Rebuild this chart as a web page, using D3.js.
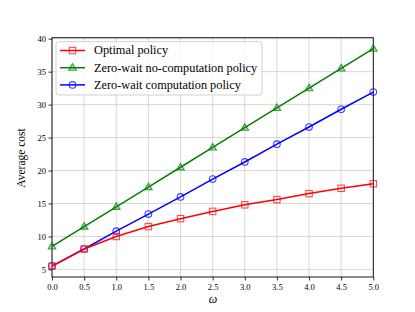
<!DOCTYPE html>
<html><head><meta charset="utf-8">
<script src="https://cdn.jsdelivr.net/npm/d3@7"></script>
<style>body{margin:0;background:#fff}svg{display:block}</style>
</head><body><svg id="c" width="415" height="312" font-family="Liberation Serif, DejaVu Serif, serif"></svg>
<script>
const omega = [0,0.5,1,1.5,2,2.5,3,3.5,4,4.5,5];
const optimal = [5.5,8.1,10.0,11.5,12.7,13.8,14.8,15.6,16.5,17.3,18.0];
const zeroNoComp = [8.5,11.5,14.5,17.5,20.5,23.5,26.5,29.5,32.5,35.5,38.5];
const zeroComp = [5.5,8.1,10.8,13.4,16.0,18.7,21.3,24.0,26.6,29.3,31.9];
const xTicks = [0,0.5,1,1.5,2,2.5,3,3.5,4,4.5,5];
const yTicks = [5,10,15,20,25,30,35,40];
const seriesNames = ["Optimal policy","Zero-wait no-computation policy","Zero-wait computation policy"];

const FF = "Liberation Serif, DejaVu Serif, serif";
const svg = d3.select("#c");
const L=52,R=373.3,T=37.7,B=277;
const x = d3.scaleLinear().domain([0,5]).range([L,R]);
const y = d3.scaleLinear().domain([3.85,40.15]).range([B,T]);

svg.append("g").selectAll("line").data(xTicks).join("line")
  .attr("x1",d=>x(d)).attr("x2",d=>x(d)).attr("y1",T).attr("y2",B)
  .attr("stroke","#b0b0b0").attr("stroke-opacity",0.55).attr("stroke-width",0.9);
svg.append("g").selectAll("line").data(yTicks).join("line")
  .attr("y1",d=>y(d)).attr("y2",d=>y(d)).attr("x1",L).attr("x2",R)
  .attr("stroke","#b0b0b0").attr("stroke-opacity",0.55).attr("stroke-width",0.9);

const xa = svg.append("g").attr("transform",`translate(0,${B})`)
  .call(d3.axisBottom(x).tickValues(xTicks).tickFormat(d3.format(".1f")).tickSize(3.5).tickPadding(3));
const ya = svg.append("g").attr("transform",`translate(${L},0)`)
  .call(d3.axisLeft(y).tickValues(yTicks).tickFormat(d3.format("d")).tickSize(3.5).tickPadding(2.5));
[xa,ya].forEach(a=>{a.attr("font-family",FF);a.select(".domain").remove();a.selectAll("text").attr("font-size",8.5).attr("fill","#000");
  a.selectAll("line").attr("stroke","#000").attr("stroke-width",0.8);});

svg.append("rect").attr("x",L).attr("y",T).attr("width",R-L).attr("height",B-T)
  .attr("fill","none").attr("stroke","#000").attr("stroke-width",0.9);

const series = [
  {name:seriesNames[0],vals:optimal,color:"#ff0000",marker:"square"},
  {name:seriesNames[1],vals:zeroNoComp,color:"#008000",marker:"triangle"},
  {name:seriesNames[2],vals:zeroComp,color:"#0000ff",marker:"circle"}
];
function drawMarker(g,type,cx,cy,color){
  if(type==="square") g.append("rect").attr("x",cx-3.2).attr("y",cy-3.2).attr("width",6.4).attr("height",6.4)
    .attr("fill","none").attr("stroke",color).attr("stroke-opacity",0.7).attr("stroke-width",1.1);
  else if(type==="triangle") g.append("path").attr("d",`M${cx},${cy-4}L${cx+3.8},${cy+2.6}L${cx-3.8},${cy+2.6}Z`)
    .attr("fill",color).attr("fill-opacity",0.25).attr("stroke",color).attr("stroke-opacity",0.75).attr("stroke-width",1.1);
  else g.append("circle").attr("cx",cx).attr("cy",cy).attr("r",3.3)
    .attr("fill","none").attr("stroke",color).attr("stroke-opacity",0.75).attr("stroke-width",1.1);
}
const line = d3.line().x((d,i)=>x(omega[i])).y(d=>y(d));
[series[2],series[1],series[0]].forEach(s=>{
  const g = svg.append("g");
  g.append("path").datum(s.vals).attr("d",line).attr("fill","none").attr("stroke",s.color).attr("stroke-width",1.5);
  s.vals.forEach((v,i)=>drawMarker(g,s.marker,x(omega[i]),y(v),s.color));
});

const lg = svg.append("g");
lg.append("rect").attr("x",56).attr("y",41.7).attr("width",206).attr("height",53.3).attr("rx",2.5)
  .attr("fill","#fff").attr("fill-opacity",0.8).attr("stroke","#cccccc").attr("stroke-width",0.9);
series.forEach((s,i)=>{
  const yy = 50.5 + i*17.2;
  lg.append("line").attr("x1",60).attr("x2",85).attr("y1",yy).attr("y2",yy).attr("stroke",s.color).attr("stroke-width",1.5);
  drawMarker(lg,s.marker,72.5,yy,s.color);
  lg.append("text").attr("x",94).attr("y",yy+3.8).attr("font-size",12.3).attr("textLength",null).text(s.name);
});

svg.append("text").attr("x",213).attr("y",303).attr("text-anchor","middle").attr("font-size",12)
  .attr("font-style","italic").text("ω");
svg.append("text").attr("transform","translate(25,158) rotate(-90)").attr("text-anchor","middle")
  .attr("font-size",11.5).text("Average cost");
</script></body></html>
